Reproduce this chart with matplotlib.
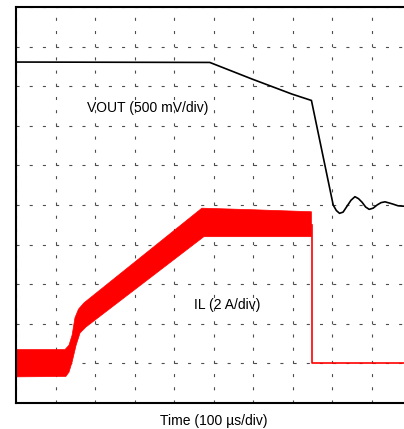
import matplotlib
matplotlib.use("Agg")
import matplotlib.pyplot as plt
import numpy as np

plt.rcParams['font.family'] = ['Liberation Sans', 'DejaVu Sans']
plt.rcParams['lines.scale_dashes'] = False

# time in us (100 us/div), vertical in screen divisions
vout_t = [0, 490, 597, 698, 747, 802, 810, 818, 827, 837, 847, 857, 866, 875,
          884, 893, 903, 913, 923, 933, 944, 954, 966, 979, 1000]
vout_div = [8.61, 8.60, 8.18, 7.80, 7.64, 5.00, 4.86, 4.79, 4.82, 4.97, 5.12,
            5.21, 5.16, 5.07, 4.95, 4.89, 4.92, 5.00, 5.06, 5.08, 5.05, 5.02,
            4.98, 4.97, 4.99]

# inductor current ripple envelope
il_t_up = [0, 124, 134, 142, 149, 158, 172, 470, 600, 747]
il_up = [1.35, 1.35, 1.46, 1.72, 2.15, 2.37, 2.53, 4.92, 4.88, 4.83]
il_t_lo = [0, 126, 134, 142, 152, 162, 177, 475, 747]
il_lo = [0.66, 0.67, 0.78, 1.04, 1.46, 1.77, 1.92, 4.20, 4.20]

# after the switch stops
il_off_t = [748, 748, 1000]
il_off = [4.5, 1.0, 1.0]

fig = plt.figure(figsize=(4.04, 4.29), dpi=100)
ax = fig.add_axes([16 / 404, 26 / 429, 395.5 / 404, 396 / 429])

ax.set_xlim(0, 1000)
ax.set_ylim(0, 10)
ax.set_xticks(np.arange(0, 1001, 100))
ax.set_yticks(np.arange(0, 11, 1))
ax.tick_params(length=0, labelbottom=False, labelleft=False)
ax.set_axisbelow(True)
ax.grid(True, color='0.3', linewidth=0.8, linestyle=(0, (2.2, 7.3)))

for s in ax.spines.values():
    s.set_linewidth(1.5)

poly_x = il_t_up + il_t_lo[::-1]
poly_y = il_up + il_lo[::-1]
ax.fill(poly_x, poly_y, color='red', linewidth=0.5, edgecolor='red')
ax.plot(il_off_t, il_off, color='red', linewidth=1.2)

ax.plot(vout_t, vout_div, color='black', linewidth=1.2)

ax.text(179, 7.34, 'VOUT (500 mV/div)', fontsize=10, va='baseline', ha='left')
ax.text(450, 2.37, 'IL (2 A/div)', fontsize=10, va='baseline', ha='left')
fig.text(213.75 / 404, (429 - 425.3) / 429, 'Time (100 µs/div)', fontsize=10,
         va='baseline', ha='center')

fig.savefig('out.png', dpi=100)
